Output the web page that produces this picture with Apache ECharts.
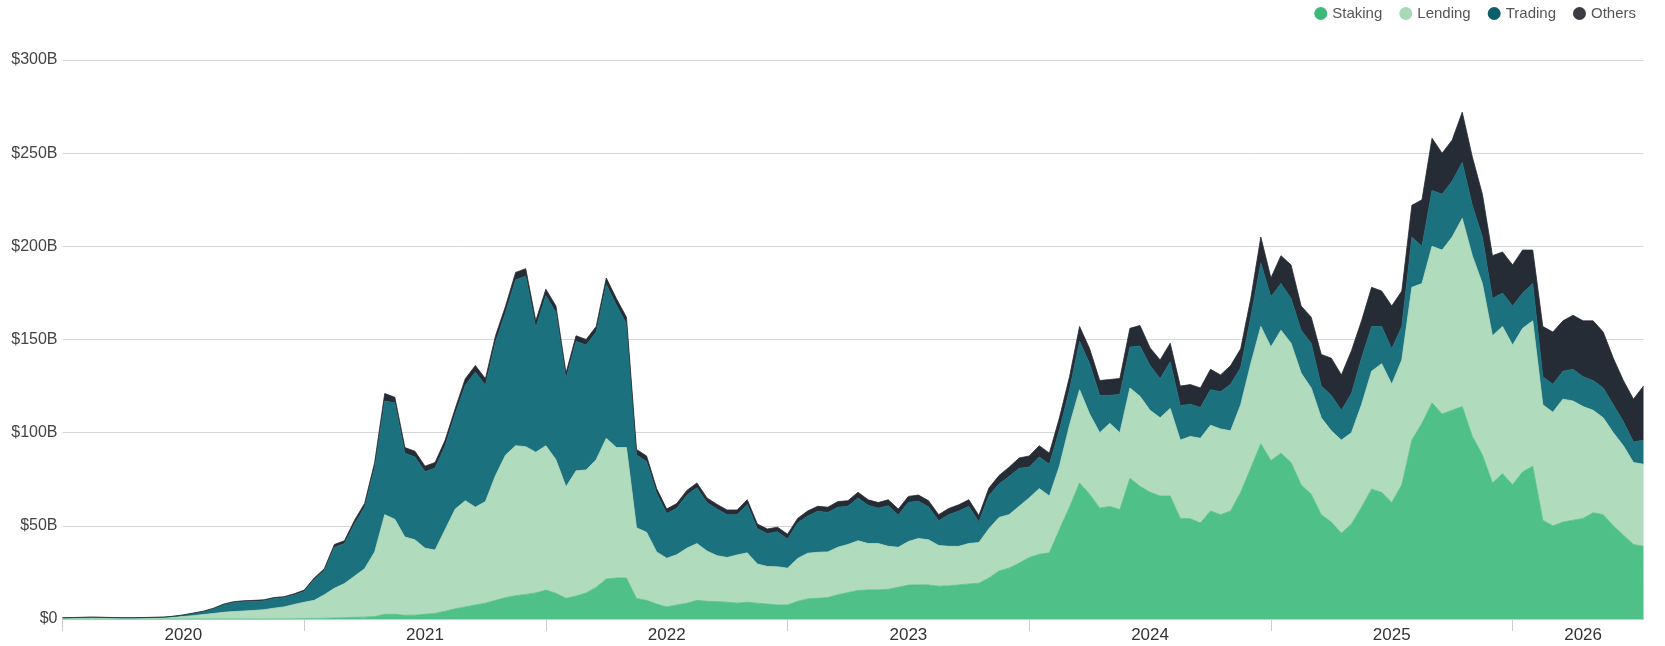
<!DOCTYPE html>
<html>
<head>
<meta charset="utf-8">
<title>DeFi TVL by category</title>
<script src="https://cdn.jsdelivr.net/npm/echarts@6/dist/echarts.min.js"></script>
<style>
  html, body { margin: 0; padding: 0; background: #fff; }
  #chart { width: 1665px; height: 646px; }
</style>
</head>
<body>
<div id="chart"></div>
<script>
// values in $B, one per half month (1st and 16th), 2020-01-01 .. 2026-07-16
const staking = [
  0,0,0,0,0,0,0,0,0,0,0,0,0,0,0,0,0,0,0,0,0,0,0,0.1,
  0.2,0.3,0.4,0.5,0.7,0.9,1.0,1.3,2.5,2.5,2,2,2.5,3,4.2,5.5,6.5,7.5,8.5,10,11.5,12.5,13.2,14,
  15.5,13.8,11.1,12.3,14,17,21.5,22,22,11,10,8,6.5,7.5,8.4,10,9.5,9.3,9,8.5,9,8.5,8,7.5,
  7.5,9.5,10.8,11.1,11.5,13,14.2,15.3,15.6,15.6,16,17,18.2,18.3,18.3,17.6,17.8,18.3,18.8,19.2,22,25.8,27.3,30,
  33,34.7,35.5,48,60,73,67,59.5,60.4,58.7,75.5,71.2,68,66,66,54,53.8,51.5,58,56,58,68,81,94,
  85,89,84,72,67,56,52,46,51,60,69.7,68,62.5,72,96,105,116,110,112,114,98,88,73,78,
  72,79,82,53,50,52,53,54,57,56,50,45,40,39
];
const lending = [
  0.5,0.6,0.6,0.7,0.6,0.6,0.5,0.5,0.6,0.6,0.7,0.9,1.3,1.8,2.4,3.0,3.6,4.0,4.3,4.6,5.0,5.8,6.5,7.7,
  8.8,9.7,12.6,16,18.3,22.1,26,34.7,53.5,51,42,40.5,35.5,34,43.8,53.5,57,52.5,54.5,67,76.5,80.5,79.3,75.5,
  77.5,71.7,59.9,67.2,66,68.5,75.5,70,70,38,36.5,28,26.1,27,29.6,30.5,27,24.7,24,25.9,26.5,21,20.2,20.5,
  19.8,23,24.5,24.7,24.5,25.5,25.8,26.7,24.9,24.9,23,21.5,23.4,24.9,24.2,21.9,21.2,20.7,21.7,21.8,26.5,28.7,28.7,30.5,
  32,35.3,30.5,34,44,50,43,40.5,44.6,41.3,48.5,48.3,44,42,47,42,44.2,45.5,46,46,43,47,56,63,
  61,66,64,60,57,52,49,50,49,55,63.3,69,63.5,67,82,75,84,88,93,101,97,92,79,79,
  75,77,78,62,61,66,64,60,55,52,50,48,44,44
];
const trading = [
  0.15,0.15,0.25,0.25,0.25,0.15,0.15,0.15,0.15,0.25,0.25,0.5,0.8,1.2,1.6,2.5,4.0,4.8,5.0,4.9,4.8,5.2,5.0,5.1,
  5.8,11,13,22,21.5,28,33,45.5,61,62.5,45,44.5,41,44,45,51,62,72.5,62.5,71.5,76.5,89,91.5,67,
  80.5,79,58,69.5,67,68.5,82.5,76.5,66.5,39,38,31.5,24,25,28.5,30,26,25,23,21.6,26,19,17.6,18.8,
  15.7,19,20,22,21.2,21.5,20.5,23,20.5,19,21.8,17.3,21,20,17.7,13.2,17,18.9,20,11,17.8,18,20.5,20.4,
  16.5,17,17,19.5,19,26,27,20,15,20.6,22,27,24,21,25,18.5,17.3,16.5,19,20,25,20,25,34,
  27,25,24,23,24,17,19,16,21,25,24,20,19,18,27,20,30,30,30,30,27,25,20,18,
  21,19,20,15,15,15,17,16,16,16,15,13,11,13
];
const others = [
  0.05,0.05,0.05,0.05,0.05,0.05,0.05,0.05,0.05,0.05,0.05,0.1,0.1,0.2,0.2,0.3,0.4,0.5,0.5,0.5,0.5,0.5,0.5,0.6,
  0.7,1,1,1.5,1.5,2,2,2.5,4,3,3,3,3,3,3,3,3.5,3.5,3.5,3.5,3.5,4,4,3.5,
  3.5,3.5,3,3,3,3,3.5,3.5,3.5,3,3,2.5,2.4,2.5,2.5,2.5,2.5,2.5,2.5,2.5,2.5,2.5,2.5,2.5,
  2.5,2.5,2.7,2.7,2.8,3,3,3,3,3,3.2,3.2,3.2,3.3,3.3,3.3,3.3,3.4,3.5,3.5,4,4.5,5,5.5,
  6,6,6,6.5,7,8,8,8,8.5,8.5,10,11,9.5,10,10,10.5,10.5,10.5,11,9,10,10,10,14,
  10,15,18,13,14,17,20,19,23,20,21,19,23,19,17,25,28,22,22,27,26,23,23,22,
  22,23,18,27,28,27,29,30,32,30,25,22,23,29
];
const seriesNames = ['Staking', 'Lending', 'Trading', 'Others'];
const yearLabels = ['2020', '2021', '2022', '2023', '2024', '2025', '2026'];

// half-month categories: the 1st and the 16th of every month
const dates = [];
for (let y = 2020; y <= 2026; y++) {
  for (let m = 1; m <= 12 && dates.length < staking.length; m++) {
    const mm = String(m).padStart(2, '0');
    dates.push(y + '-' + mm + '-01', y + '-' + mm + '-16');
  }
}
dates.length = staking.length;

// a tick where a year starts, its label in the middle of the year
const isYearStart = i => dates[i].slice(5) === '01-01';
const lastIdx = dates.length - 1;
const labelIdx = yearLabels.map(y => {
  const a = dates.indexOf(y + '-01-01');
  const b = Math.min(a + 24, lastIdx);
  return Math.round((a + b) / 2);
});

const legendColors = ['#3cb878', '#a9d8b7', '#0b5f6b', '#3b3c42'];
const areaColors = ['#4fc087', '#b0dbbc', '#1b717e', '#252c35'];
const layers = [staking, lending, trading, others];

const chart = echarts.init(document.getElementById('chart'));
chart.setOption({
  animation: false,
  textStyle: { fontFamily: '"Liberation Sans", Arial, sans-serif' },
  legend: {
    data: seriesNames,
    right: 24,
    top: 1,
    icon: 'circle',
    itemWidth: 13,
    itemHeight: 13,
    itemGap: 17,
    textStyle: { fontSize: 15, color: '#555' }
  },
  grid: { left: 62.5, right: 21.5, top: 60, bottom: 27 },
  xAxis: {
    type: 'category',
    data: dates,
    boundaryGap: false,
    axisLine: { lineStyle: { color: '#cccccc' } },
    axisTick: {
      show: true,
      length: 12,
      interval: i => isYearStart(i),
      lineStyle: { color: '#cccccc' }
    },
    axisLabel: {
      interval: i => labelIdx.includes(i),
      formatter: v => v.slice(0, 4),
      color: '#333',
      fontSize: 17,
      margin: 8
    },
    splitLine: { show: false }
  },
  yAxis: {
    type: 'value',
    min: 0,
    max: 300,
    interval: 50,
    axisLine: { show: false },
    axisTick: { show: false },
    axisLabel: {
      formatter: v => (v === 0 ? '$0' : '$' + v + 'B'),
      color: '#444',
      fontSize: 16,
      margin: 5
    },
    splitLine: { lineStyle: { color: '#d6d6d6' } }
  },
  series: seriesNames.map((name, k) => ({
    name,
    type: 'line',
    stack: 'tvl',
    symbol: 'none',
    itemStyle: { color: legendColors[k] },
    lineStyle: { width: 0.8, color: areaColors[k] },
    areaStyle: { color: areaColors[k], opacity: 1 },
    emphasis: { disabled: true },
    data: layers[k]
  }))
});
</script>
</body>
</html>
